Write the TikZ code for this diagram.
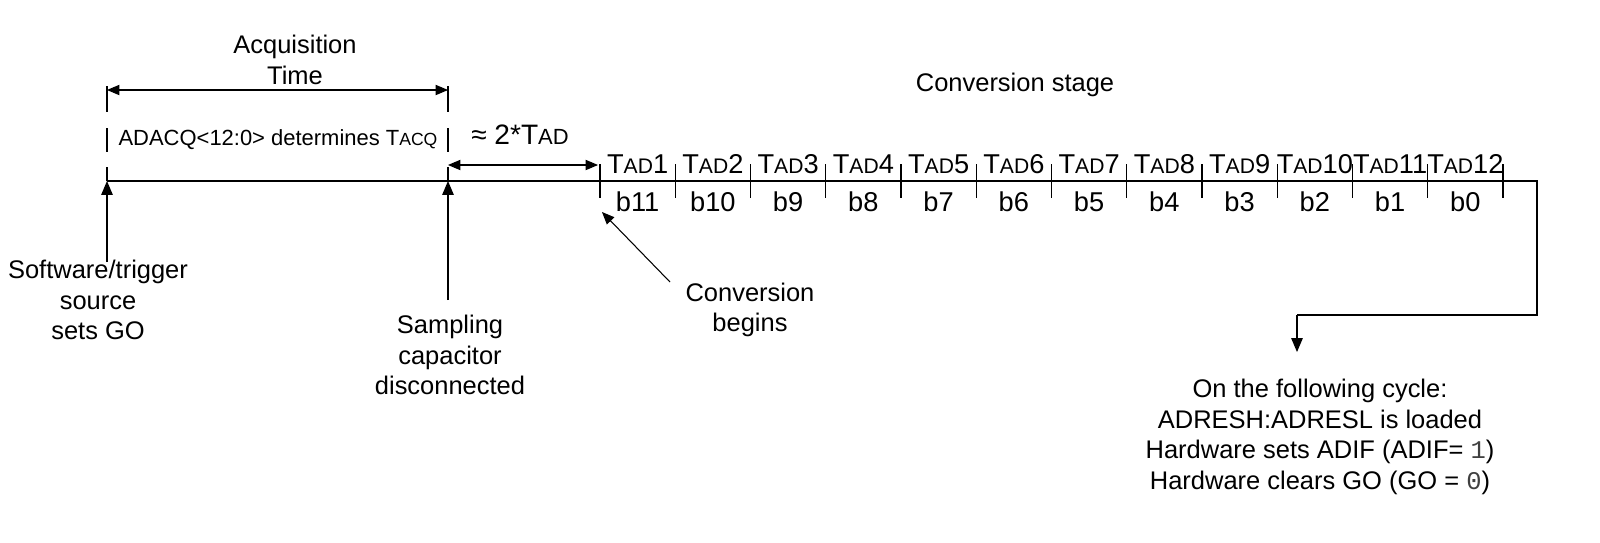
\documentclass[tikz,border=0pt]{standalone}
\usepackage{fontspec}
\setmainfont{Liberation Sans}
\setmonofont{Liberation Mono}
\usetikzlibrary{arrows,positioning}

\begin{document}
\begin{tikzpicture}[x=0.02cm,y=-0.02cm,>=triangle 45,thick,
  lbl node/.style={font=\fontsize{14.5}{17.5}\selectfont,align=center,inner sep=1pt},
  tad node/.style={font=\fontsize{15.5}{17}\selectfont,anchor=south,inner sep=1pt},
  bit node/.style={font=\fontsize{15.5}{17}\selectfont,anchor=north,inner sep=1pt},
  mark line/.style={semithick}]
  % time line
  \coordinate (start) at (107,181);
  \coordinate (samp) at (448,181);
  \coordinate (conv) at (600,181);
  \coordinate (lineend) at (1537,181);
  \coordinate (turn) at (1537,315);
  \coordinate (drop) at (1297,315);
  \draw (start) -- (lineend) -- (turn) -- (drop);
  \node[lbl node] (result) at (1320,437) {On the following cycle:\\ADRESH:ADRESL is loaded\\Hardware sets ADIF (ADIF= {\ttfamily\color{darkgray}1})\\Hardware clears GO (GO = {\ttfamily\color{darkgray}0})};
  \draw[->] (drop) -- (1297,352);
  % acquisition markers
  \foreach \x/\n in {107/a,448/b} {
    \draw[mark line] (\x,86) -- (\x,112);
    \draw[mark line] (\x,128) -- (\x,152);
    \draw[mark line] (\x,167) -- (\x,181);
  }
  \node[lbl node] (acq) at (295,60) {Acquisition\\Time};
  \draw[<->,semithick] (107,90) -- (448,90);
  \node[font=\fontsize{12.5}{14}\selectfont] (acqc) at (278,140) {ADACQ<12:0> determines T{\fontsize{10}{12}\selectfont ACQ}};
  \node[font=\fontsize{16}{18}\selectfont] (twotad) at (520,135) {≈ 2*T{\fontsize{12.5}{14}\selectfont AD}};
  \draw[<->,semithick] (448,165) -- (598,165);
  \node[lbl node] (stage) at (1015,85) {Conversion stage};
  % conversion slots
  \foreach \i [evaluate=\i as \xl using 600+75.25*(\i-1),
               evaluate=\i as \xr using 600+75.25*\i,
               evaluate=\i as \b using int(12-\i)] in {1,...,12} {
    \draw[mark line] (\xl,164) -- (\xl,198);
    \node[tad node] (tad\i) at ({(\xl+\xr)/2},176) {T{\fontsize{12}{14}\selectfont AD}\i};
    \node[bit node] (bit\i) at ({(\xl+\xr)/2},189) {b\b};
  }
  \draw[mark line] (1503,164) -- (1503,198);
  % events
  \node[lbl node] (go) at (98,300) {Software/trigger\\source\\sets GO};
  \draw[->] (107,262) -- (start);
  \node[lbl node] (cap) at (450,355) {Sampling\\capacitor\\disconnected};
  \draw[->] (448,300) -- (samp);
  \node[lbl node] (begin) at (750,310) {Conversion\\begins};
  \draw[->,semithick] (670,282) -- (602,212);
  \pgfresetboundingbox
  \useasboundingbox (0,0) rectangle (1600,542);
\end{tikzpicture}
\end{document}
